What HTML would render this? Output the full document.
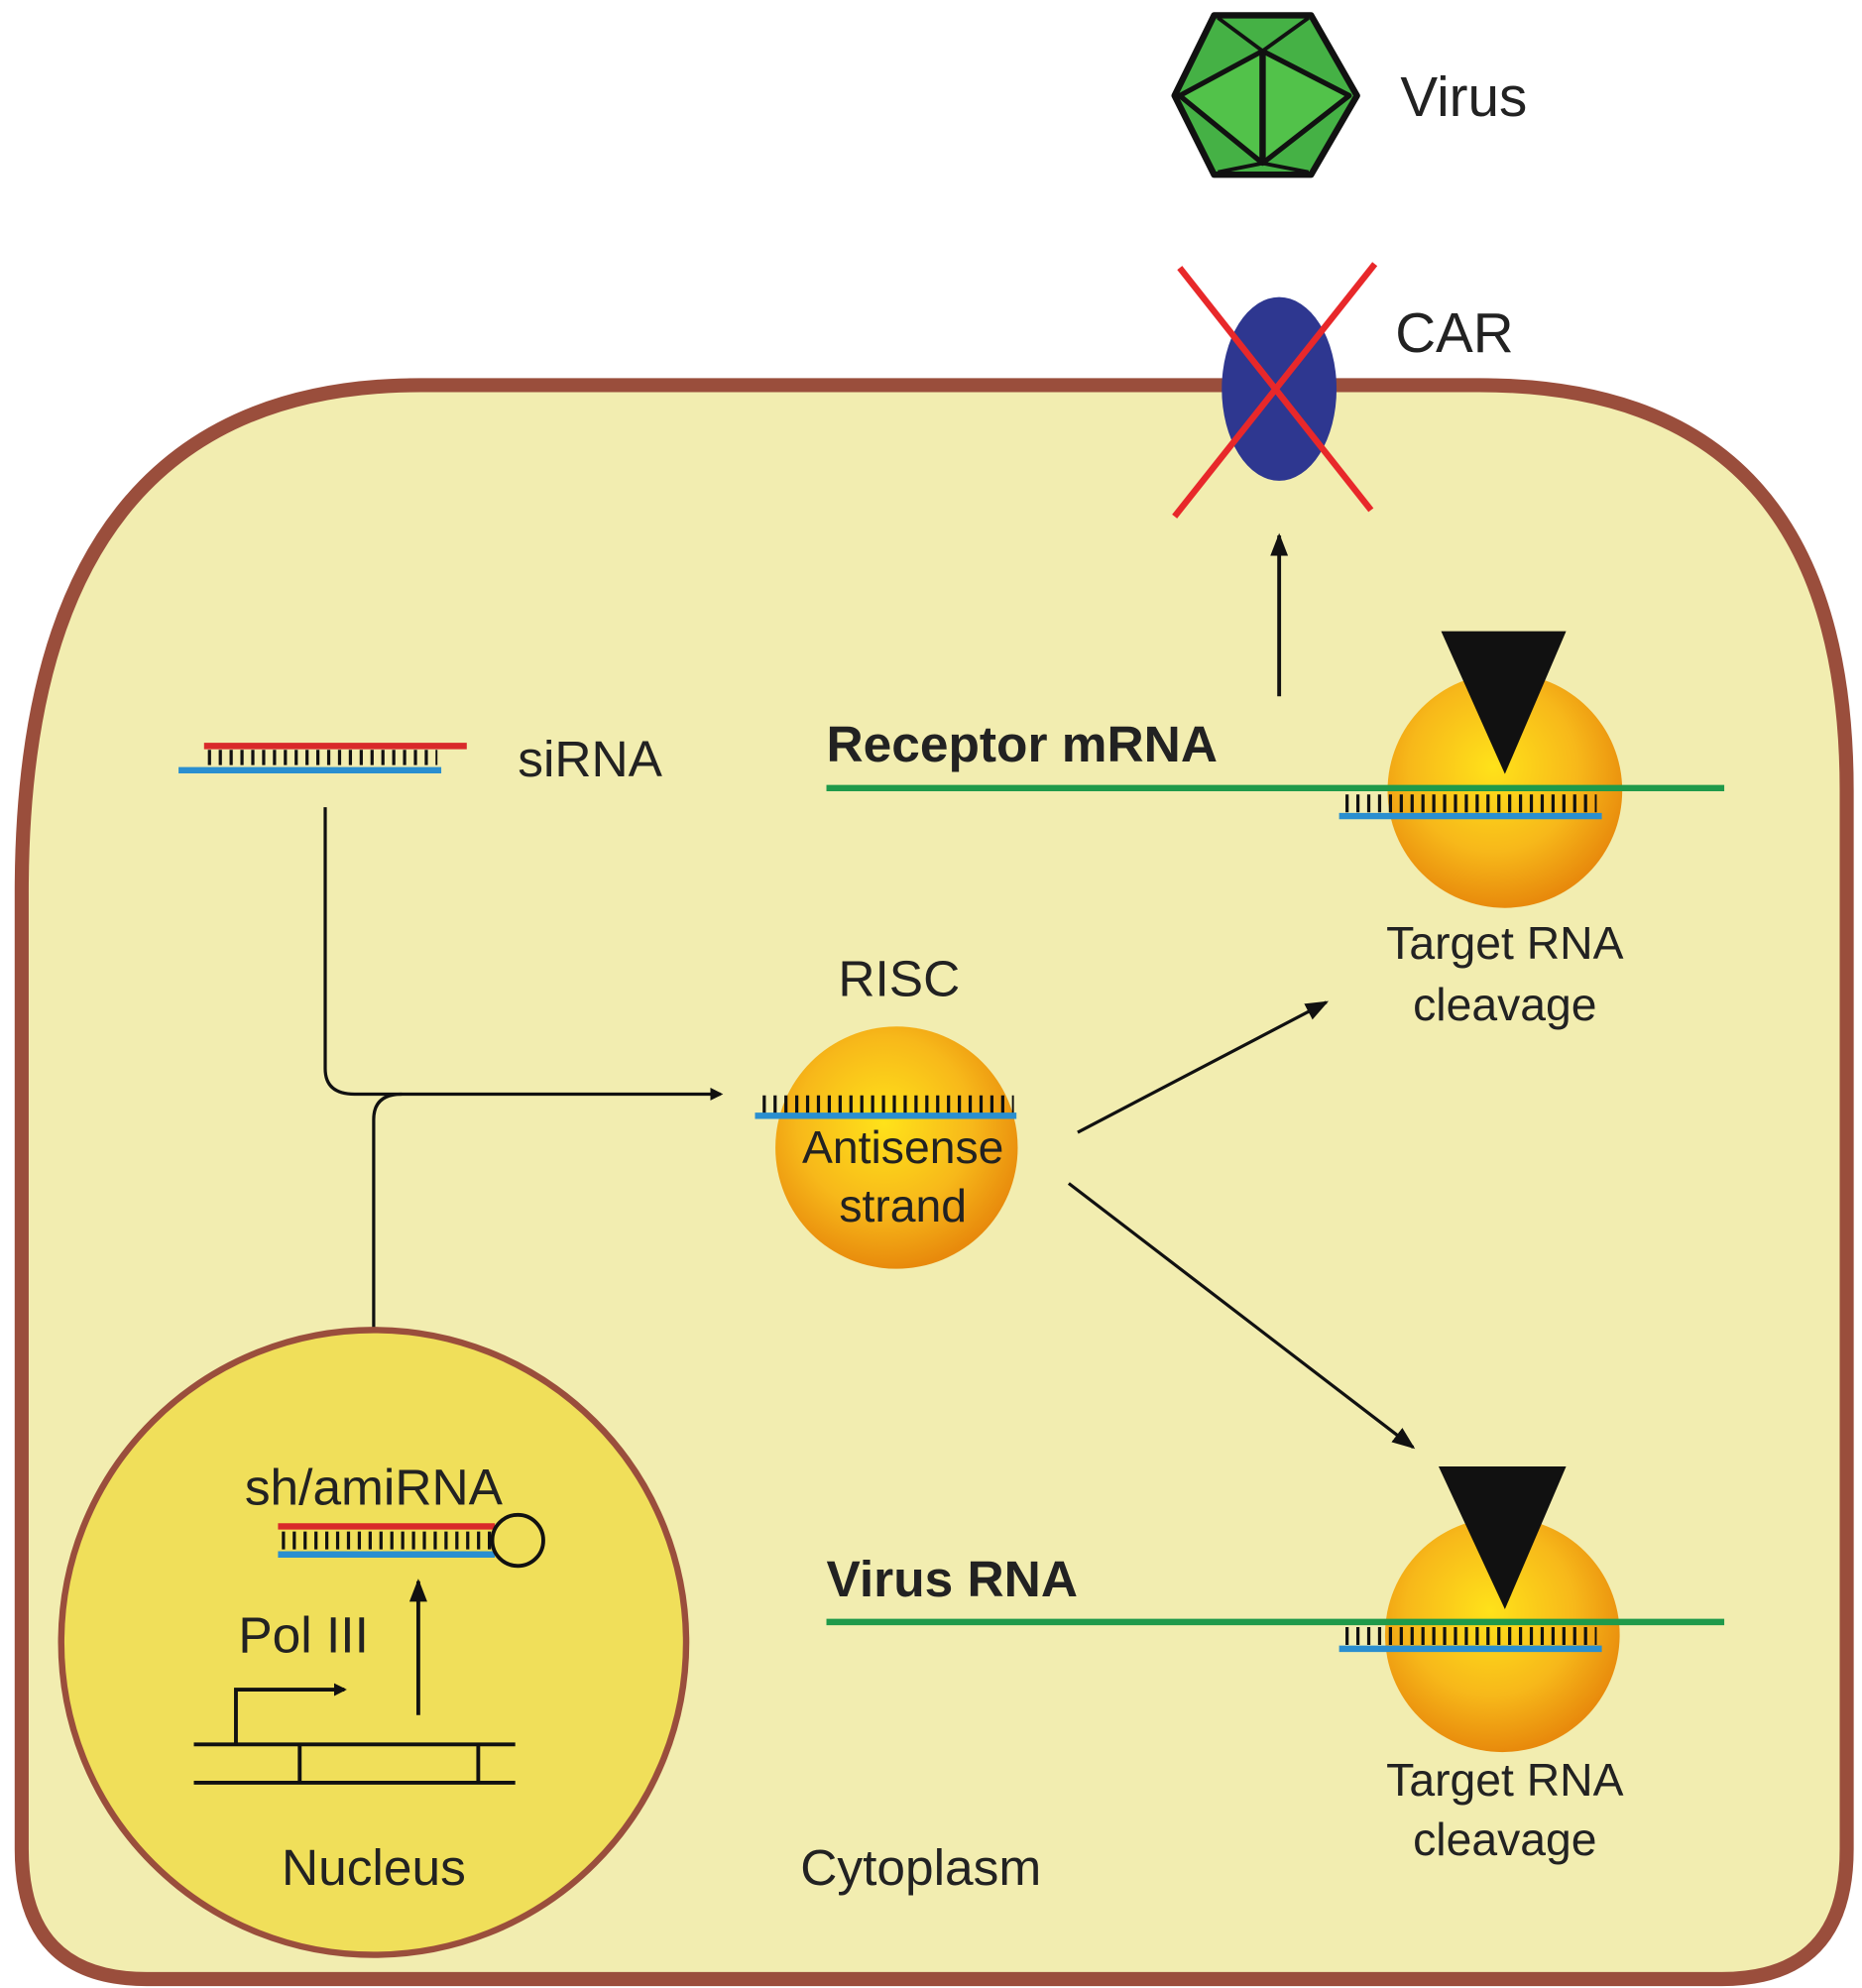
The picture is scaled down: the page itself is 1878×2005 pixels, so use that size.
<!DOCTYPE html>
<html><head><meta charset="utf-8"><style>html,body{margin:0;padding:0;background:#fff}svg{display:block}</style></head>
<body>
<svg width="1878" height="2005" viewBox="0 0 1460 1559" preserveAspectRatio="none" xmlns="http://www.w3.org/2000/svg" font-family="Liberation Sans, sans-serif">
<defs>
<radialGradient id="g" cx="0.45" cy="0.4" r="0.6"><stop offset="0" stop-color="#ffe21a"/><stop offset="0.6" stop-color="#f7b81a"/><stop offset="1" stop-color="#e88a0c"/></radialGradient>
<marker id="a" markerWidth="10" markerHeight="10" refX="8" refY="5" orient="auto" markerUnits="userSpaceOnUse" viewBox="0 0 10 10"><path d="M0,0 L10,5 L0,10 z" fill="#111"/></marker>
<marker id="b" markerWidth="18" markerHeight="18" refX="16" refY="9" orient="auto" markerUnits="userSpaceOnUse" viewBox="0 0 18 18"><path d="M0,2 L18,9 L0,16 z" fill="#111"/></marker>
</defs>
<!-- cell -->
<path d="M330,302 L1160,302 Q1448,302 1448,620 L1448,1450 Q1448,1552 1350,1552 L115,1552 Q17,1552 17,1450 L17,700 Q17,302 330,302 Z" fill="#f2edb0" stroke="#9a4e3c" stroke-width="11"/>
<!-- virus -->
<g stroke="#111" stroke-width="5" stroke-linejoin="round">
<polygon points="952,12 1028,12 1064,75 1028,137 952,137 921,75" fill="#45b145"/>
<polygon points="925,75 990,40 1058,75 990,128" fill="#52c24a" stroke-width="4"/>
<line x1="990" y1="40" x2="990" y2="128" stroke-width="5"/>
<line x1="955" y1="14" x2="990" y2="40" stroke-width="3"/><line x1="1026" y1="14" x2="990" y2="40" stroke-width="3"/>
<line x1="955" y1="135" x2="990" y2="128" stroke-width="3"/><line x1="1026" y1="135" x2="990" y2="128" stroke-width="3"/>
</g>
<text x="1098" y="91" font-size="44" fill="#222">Virus</text>
<!-- CAR -->
<ellipse cx="1003" cy="305" rx="45" ry="72" fill="#2e3790"/>
<line x1="925" y1="210" x2="1075" y2="400" stroke="#e8282a" stroke-width="5"/>
<line x1="1078" y1="207" x2="921" y2="405" stroke="#e8282a" stroke-width="5"/>
<text x="1094" y="276" font-size="44" fill="#222">CAR</text>
<line x1="1003" y1="546" x2="1003" y2="420" stroke="#111" stroke-width="3" marker-end="url(#b)"/>
<!-- siRNA -->
<line x1="160" y1="585" x2="366" y2="585" stroke="#d92a2a" stroke-width="5"/>
<line x1="140" y1="604" x2="346" y2="604" stroke="#2a8fd0" stroke-width="5"/>
<line x1="163" y1="594" x2="343" y2="594" stroke="#111" stroke-width="12" stroke-dasharray="2.5 6"/>
<text x="406" y="609" font-size="40" fill="#222">siRNA</text>
<!-- receptor mRNA -->
<text x="648" y="597" font-size="40" font-weight="bold" fill="#222">Receptor mRNA</text>
<circle cx="1180" cy="620" r="92" fill="url(#g)"/>
<line x1="648" y1="618" x2="1352" y2="618" stroke="#1f9a4a" stroke-width="5"/>
<line x1="1055" y1="630" x2="1252" y2="630" stroke="#111" stroke-width="14" stroke-dasharray="2.5 6"/>
<line x1="1050" y1="640" x2="1256" y2="640" stroke="#2a8fd0" stroke-width="5"/>
<polygon points="1130,495 1228,495 1180,607" fill="#111"/>
<text x="1180" y="752" font-size="36" fill="#222" text-anchor="middle">Target RNA</text>
<text x="1180" y="800" font-size="36" fill="#222" text-anchor="middle">cleavage</text>
<!-- RISC -->
<text x="705" y="781" font-size="40" fill="#222" text-anchor="middle">RISC</text>
<circle cx="703" cy="900" r="95" fill="url(#g)"/>
<line x1="598" y1="866" x2="795" y2="866" stroke="#111" stroke-width="14" stroke-dasharray="2.5 6"/>
<line x1="592" y1="875" x2="797" y2="875" stroke="#2a8fd0" stroke-width="5"/>
<text x="708" y="912" font-size="36" fill="#222" text-anchor="middle">Antisense</text>
<text x="708" y="958" font-size="36" fill="#222" text-anchor="middle">strand</text>
<!-- connectors -->
<path d="M255,633 L255,838 Q255,858 278,858 L565,858" fill="none" stroke="#111" stroke-width="2.5" marker-end="url(#a)"/>
<path d="M293,1118 L293,878 Q293,858 315,858" fill="none" stroke="#111" stroke-width="2.5"/>
<line x1="845" y1="888" x2="1040" y2="786" stroke="#111" stroke-width="2.5" marker-end="url(#b)"/>
<line x1="838" y1="928" x2="1108" y2="1135" stroke="#111" stroke-width="2.5" marker-end="url(#b)"/>
<!-- virus RNA -->
<text x="648" y="1252" font-size="40" font-weight="bold" fill="#222">Virus RNA</text>
<circle cx="1178" cy="1282" r="92" fill="url(#g)"/>
<line x1="648" y1="1272" x2="1352" y2="1272" stroke="#1f9a4a" stroke-width="5"/>
<line x1="1055" y1="1283" x2="1252" y2="1283" stroke="#111" stroke-width="14" stroke-dasharray="2.5 6"/>
<line x1="1050" y1="1293" x2="1256" y2="1293" stroke="#2a8fd0" stroke-width="5"/>
<polygon points="1128,1150 1228,1150 1180,1262" fill="#111"/>
<text x="1180" y="1408" font-size="36" fill="#222" text-anchor="middle">Target RNA</text>
<text x="1180" y="1455" font-size="36" fill="#222" text-anchor="middle">cleavage</text>
<!-- nucleus -->
<circle cx="293" cy="1288" r="245" fill="#f0df5a" stroke="#9a4e3c" stroke-width="5"/>
<text x="293" y="1180" font-size="40" fill="#222" text-anchor="middle">sh/amiRNA</text>
<line x1="218" y1="1197" x2="388" y2="1197" stroke="#d92a2a" stroke-width="5"/>
<line x1="218" y1="1219" x2="388" y2="1219" stroke="#2a8fd0" stroke-width="5"/>
<line x1="221" y1="1208" x2="385" y2="1208" stroke="#111" stroke-width="14" stroke-dasharray="2.5 6"/>
<circle cx="406" cy="1208" r="20" fill="none" stroke="#111" stroke-width="3"/>
<line x1="328" y1="1345" x2="328" y2="1240" stroke="#111" stroke-width="3" marker-end="url(#b)"/>
<text x="238" y="1296" font-size="40" fill="#222" text-anchor="middle">Pol III</text>
<line x1="152" y1="1368" x2="404" y2="1368" stroke="#111" stroke-width="3"/>
<line x1="152" y1="1398" x2="404" y2="1398" stroke="#111" stroke-width="3"/>
<line x1="235" y1="1368" x2="235" y2="1398" stroke="#111" stroke-width="3"/>
<line x1="375" y1="1368" x2="375" y2="1398" stroke="#111" stroke-width="3"/>
<path d="M185,1368 L185,1325 L270,1325" fill="none" stroke="#111" stroke-width="3" marker-end="url(#a)"/>
<text x="293" y="1478" font-size="40" fill="#222" text-anchor="middle">Nucleus</text>
<text x="722" y="1478" font-size="40" fill="#222" text-anchor="middle">Cytoplasm</text>
</svg>
</body></html>
